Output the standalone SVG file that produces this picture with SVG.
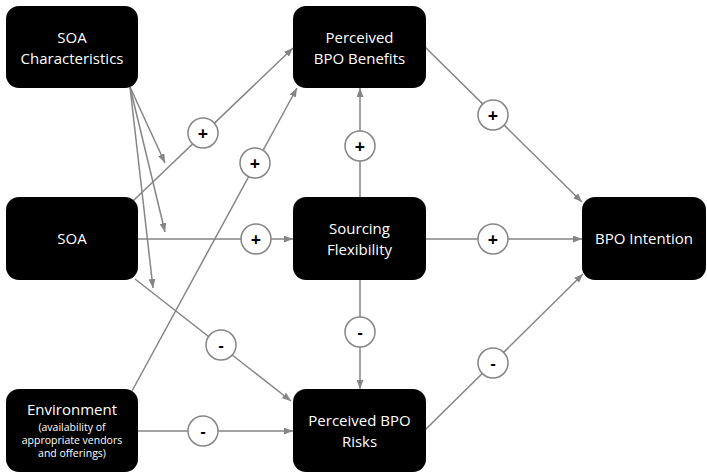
<svg xmlns="http://www.w3.org/2000/svg" width="707" height="474" viewBox="0 0 707 474">
<style>
.node rect{fill:#000}
.t{font-family:"Open Sans","Liberation Sans",sans-serif;font-size:15px;fill:#fff;text-anchor:middle}
.s{font-size:10.5px}
.c line{stroke:#858585;stroke-width:1.5;fill:none;marker-end:url(#ah)}
.lbl circle{fill:#fff;stroke:#858585;stroke-width:1.5}
.lbl text{font-family:"Open Sans","Liberation Sans",sans-serif;font-size:18px;font-weight:bold;fill:#000;text-anchor:middle}
.lbl text.m{font-size:16px}
</style>
<defs>
<marker id="ah" markerUnits="userSpaceOnUse" markerWidth="9" markerHeight="7" refX="9" refY="3.5" orient="auto">
<path d="M0,0 L9,3.5 L0,7 z" fill="#858585"/>
</marker>
</defs>
<g id="connectors" class="c">
<line x1="133" y1="201" x2="293" y2="48"/>
<line x1="132" y1="391" x2="297" y2="88"/>
<line x1="137" y1="239" x2="293" y2="239"/>
<line x1="135" y1="279" x2="291" y2="401"/>
<line x1="137" y1="431" x2="293" y2="431"/>
<line x1="360" y1="197" x2="360" y2="88"/>
<line x1="360" y1="280" x2="360" y2="389"/>
<line x1="425" y1="47" x2="582" y2="202"/>
<line x1="426" y1="239" x2="582" y2="239"/>
<line x1="425" y1="430" x2="583" y2="274"/>
<line x1="130" y1="87" x2="165" y2="163"/>
<line x1="130" y1="87" x2="165" y2="232"/>
<line x1="130" y1="87" x2="153" y2="288"/>
</g>
<g id="labels" class="lbl">
<circle cx="203" cy="133" r="15"/><text x="203" y="139.5">+</text>
<circle cx="255" cy="163" r="15"/><text x="255" y="169.5">+</text>
<circle cx="256" cy="239" r="15"/><text x="256" y="245.5">+</text>
<circle cx="360" cy="146" r="15"/><text x="360" y="152.5">+</text>
<circle cx="493" cy="115" r="15"/><text x="493" y="121.5">+</text>
<circle cx="493" cy="239" r="15"/><text x="493" y="245.5">+</text>
<circle cx="360" cy="332" r="15"/><text class="m" x="360" y="337.5">-</text>
<circle cx="493" cy="363" r="15"/><text class="m" x="493" y="368.5">-</text>
<circle cx="221" cy="345" r="15"/><text class="m" x="221" y="350.5">-</text>
<circle cx="203" cy="431" r="15"/><text class="m" x="203" y="436.5">-</text>
</g>
<g id="soa-characteristics" class="node">
<rect x="6" y="6" width="132" height="82" rx="13"/>
<text class="t" x="72" y="43">SOA</text>
<text class="t" x="72" y="64">Characteristics</text>
</g>
<g id="soa" class="node">
<rect x="6" y="197" width="132" height="83" rx="13"/>
<text class="t" x="72" y="244">SOA</text>
</g>
<g id="environment" class="node">
<rect x="6" y="389" width="132" height="83" rx="13"/>
<text class="t" x="72" y="415">Environment</text>
<text class="t s" x="72" y="431">(availability of</text>
<text class="t s" x="72" y="444">appropriate vendors</text>
<text class="t s" x="72" y="457">and offerings)</text>
</g>
<g id="perceived-bpo-benefits" class="node">
<rect x="293" y="6" width="133" height="82" rx="13"/>
<text class="t" x="359.5" y="43">Perceived</text>
<text class="t" x="359.5" y="64">BPO Benefits</text>
</g>
<g id="sourcing-flexibility" class="node">
<rect x="293" y="197" width="133" height="83" rx="13"/>
<text class="t" x="359.5" y="234">Sourcing</text>
<text class="t" x="359.5" y="255">Flexibility</text>
</g>
<g id="perceived-bpo-risks" class="node">
<rect x="293" y="389" width="133" height="83" rx="13"/>
<text class="t" x="359.5" y="426">Perceived BPO</text>
<text class="t" x="359.5" y="447">Risks</text>
</g>
<g id="bpo-intention" class="node">
<rect x="582" y="197" width="124" height="83" rx="13"/>
<text class="t" x="644" y="244">BPO Intention</text>
</g>
</svg>
